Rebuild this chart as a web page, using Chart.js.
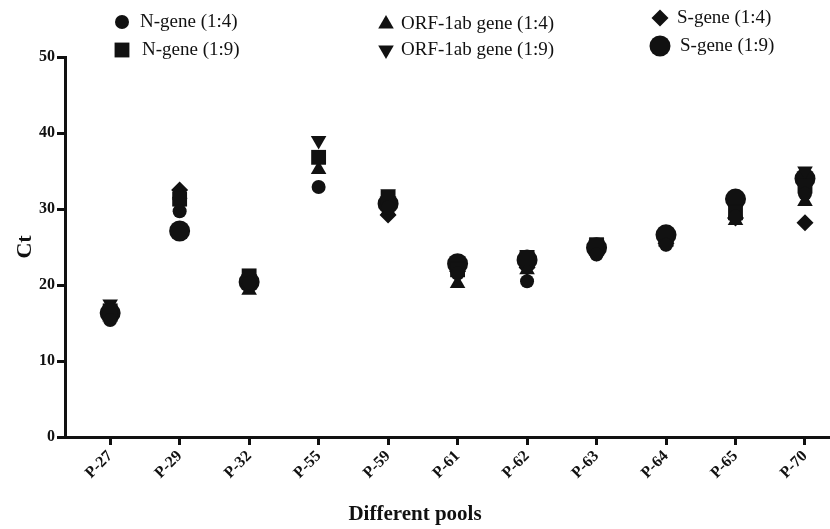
<!DOCTYPE html>
<html>
<head>
<meta charset="utf-8">
<script src="https://cdn.jsdelivr.net/npm/chart.js@4.4.0/dist/chart.umd.min.js"></script>
<style>
    html, body { margin: 0; padding: 0; background: #fff; }
    #wrap { width: 830px; height: 529px; position: relative; }
</style>
</head>
<body>
<div id="wrap"><canvas id="ctChart"></canvas></div>
<script>
// pools on the x axis
var pools = ['P-27', 'P-29', 'P-32', 'P-55', 'P-59', 'P-61', 'P-62', 'P-63', 'P-64', 'P-65', 'P-70'];

// Ct values (null = not shown)
var nGene14 = [15.4, 29.7, 20.3, 32.9, 30.2, 21.5, 20.5, 24.0, 25.3, 29.0, 32.0];
var nGene19 = [16.6, 31.3, 21.2, 36.8, 31.5, 22.0, 23.5, 25.3, 26.0, 29.5, 33.0];
var orf14 = [15.8, 32.0, 19.3, 35.2, 29.8, 20.2, 22.0, 24.5, 25.8, 28.5, 31.0];
var orf19 = [17.5, 30.8, 20.8, 39.0, 32.0, 22.5, 24.0, 25.5, 26.5, 30.0, 35.0];
var sGene14 = [16.0, 32.5, 20.0, null, 29.2, 21.8, 22.3, 24.2, 25.5, 28.8, 28.2];
var sGene19 = [16.3, 27.1, 20.4, null, 30.7, 22.8, 23.3, 24.9, 26.6, 31.3, 34.0];

var yTicks = [0, 10, 20, 30, 40, 50];

var ink = '#111';
var serif = '"Liberation Serif", "Times New Roman", serif';

function toPoints(values) {
    var pts = [];
    values.forEach(function (v, i) {
        if (v !== null) pts.push({ x: i, y: v });
    });
    return pts;
}

function makeSet(label, values, style, radius, rotation) {
    return {
        label: label,
        data: toPoints(values),
        pointStyle: style,
        pointRadius: radius,
        pointHoverRadius: radius,
        rotation: rotation || 0,
        backgroundColor: ink,
        borderColor: ink,
        borderWidth: 0,
        showLine: false
    };
}

var datasets = [
    makeSet('N-gene (1:4)', nGene14, 'circle', 7),
    makeSet('N-gene (1:9)', nGene19, 'rect', 10.5),
    makeSet('ORF-1ab gene (1:4)', orf14, 'triangle', 9),
    makeSet('ORF-1ab gene (1:9)', orf19, 'triangle', 9, 180),
    makeSet('S-gene (1:4)', sGene14, 'rectRot', 8.5),
    makeSet('S-gene (1:9)', sGene19, 'circle', 10.5)
];

// where each legend entry sits (marker x, text x, y)
var legendSpots = [
    { mx: 122, tx: 140, y: 22 },
    { mx: 122, tx: 142, y: 50 },
    { mx: 386, tx: 401, y: 24 },
    { mx: 386, tx: 401, y: 50 },
    { mx: 660, tx: 677, y: 18 },
    { mx: 660, tx: 680, y: 46 }
];

// legend in three columns + x axis title
var legendPlugin = {
    id: 'poolLegend',
    afterDraw: function (chart) {
        var ctx = chart.ctx;
        ctx.save();
        ctx.fillStyle = ink;
        ctx.strokeStyle = ink;
        ctx.textBaseline = 'middle';
        ctx.textAlign = 'left';
        ctx.font = '19px ' + serif;
        legendSpots.forEach(function (spot, i) {
            var ds = chart.data.datasets[i];
            Chart.helpers.drawPoint(ctx, {
                pointStyle: ds.pointStyle,
                radius: ds.pointRadius,
                rotation: ds.rotation,
                borderWidth: 0
            }, spot.mx, spot.y);
            ctx.fillText(ds.label, spot.tx, spot.y);
        });
        ctx.font = 'bold 21px ' + serif;
        ctx.textAlign = 'center';
        ctx.fillText('Different pools', 415, 515);
        ctx.restore();
    }
};

var axisGrid = {
    display: true,
    drawOnChartArea: false,
    drawTicks: true,
    tickLength: 8,
    tickWidth: 3,
    tickColor: ink
};

var ctChart = new Chart(document.getElementById('ctChart'), {
    type: 'scatter',
    data: { datasets: datasets },
    plugins: [legendPlugin],
    options: {
        responsive: true,
        maintainAspectRatio: false,
        animation: false,
        layout: {
            autoPadding: false,
            padding: { top: 57, right: 0, left: 0, bottom: 0 }
        },
        plugins: {
            legend: { display: false },
            tooltip: { enabled: false }
        },
        scales: {
            x: {
                type: 'linear',
                min: -0.65,
                max: 10.36,
                afterBuildTicks: function (scale) {
                    scale.ticks = pools.map(function (p, i) { return { value: i }; });
                },
                afterFit: function (scale) {
                    scale.height = 92;
                },
                ticks: {
                    autoSkip: false,
                    minRotation: 45,
                    maxRotation: 45,
                    color: ink,
                    padding: 2,
                    font: { family: serif, size: 16, weight: 'bold' },
                    callback: function (v) { return pools[v]; }
                },
                grid: axisGrid,
                border: { color: ink, width: 3 }
            },
            y: {
                min: 0,
                max: 50,
                afterBuildTicks: function (scale) {
                    scale.ticks = yTicks.map(function (t) { return { value: t }; });
                },
                afterFit: function (scale) { scale.width = 65; },
                ticks: {
                    color: ink,
                    padding: 2,
                    font: { family: serif, size: 16, weight: 'bold' }
                },
                grid: axisGrid,
                border: { color: ink, width: 3 },
                title: {
                    display: true,
                    text: 'Ct',
                    color: ink,
                    padding: { top: 12, bottom: 0 },
                    font: { family: serif, size: 22, weight: 'bold' }
                }
            }
        }
    }
});
</script>
</body>
</html>
